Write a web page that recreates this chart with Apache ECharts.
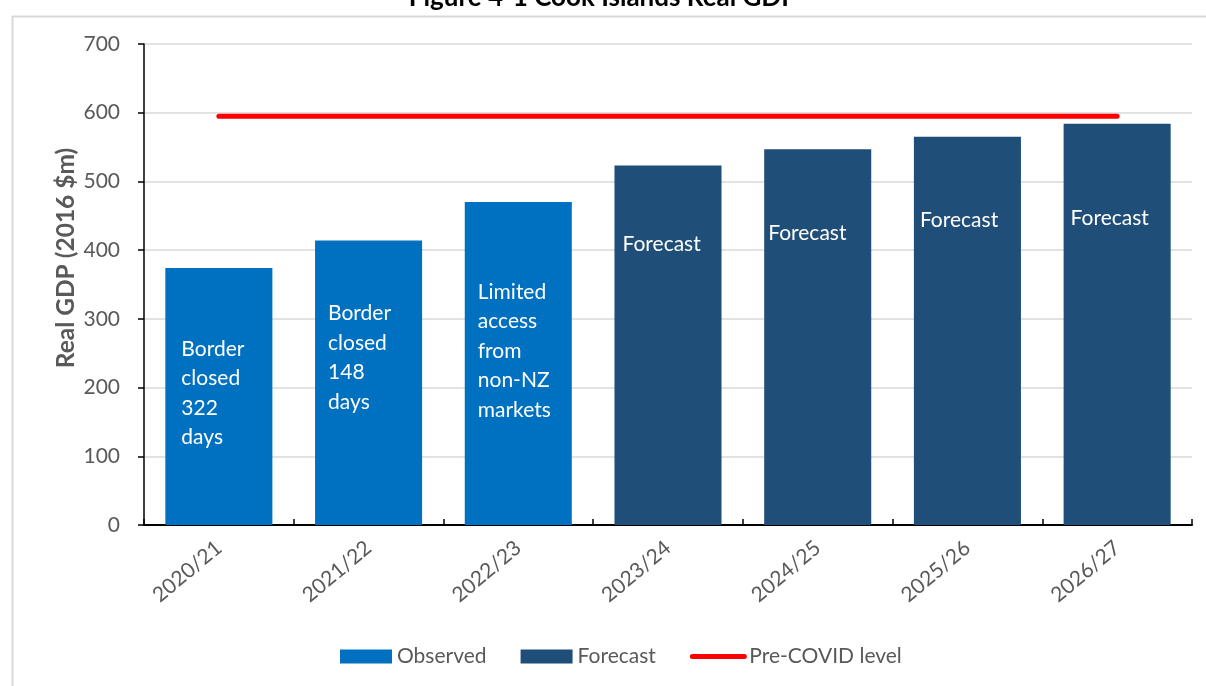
<!DOCTYPE html>
<html>
<head>
<meta charset="utf-8">
<script src="https://cdn.jsdelivr.net/npm/echarts@6/dist/echarts.min.js"></script>
<style>
  html, body { margin: 0; padding: 0; background: #ffffff; }
  #chart { width: 1206px; height: 686px; }
</style>
</head>
<body>
<div id="chart"></div>
<script>
// Cook Islands real GDP, 2016 $m
const categories = ['2020/21', '2021/22', '2022/23', '2023/24', '2024/25', '2025/26', '2026/27'];
const observed = [374, 414, 470, null, null, null, null];
const forecast = [null, null, null, 523, 547, 565, 584];
const preCovidLevel = [595, 595, 595, 595, 595, 595, 595];
const barNotes = [
  'Border\nclosed\n322\ndays',
  'Border\nclosed\n148\ndays',
  'Limited\naccess\nfrom\nnon-NZ\nmarkets',
  'Forecast', 'Forecast', 'Forecast', 'Forecast'
];
const yTicks = [0, 100, 200, 300, 400, 500, 600, 700];

const FONT = 'Lato';
const GREY = '#595959';

// where each note sits inside its bar, measured from the bar's top-left corner
const notePlacement = [[16, 66], [13, 58], [13, 75], [8, 64], [4, 69], [6, 69], [7, 80]];

function barData(values) {
  return values.map((v, i) => {
    if (v == null) return '-';
    return {
      value: v,
      label: {
        show: true,
        formatter: barNotes[i],
        position: notePlacement[i],
        align: 'left',
        verticalAlign: 'top'
      }
    };
  });
}

const noteLabel = {
  color: '#ffffff',
  fontFamily: FONT,
  fontSize: 21,
  lineHeight: 29.5
};

const chart = echarts.init(document.getElementById('chart'), null, { renderer: 'canvas' });

chart.setOption({
  backgroundColor: '#ffffff',
  animation: false,
  title: {
    text: 'Figure 4-1 Cook Islands Real GDP',
    left: 'center',
    top: -20,
    textStyle: { fontFamily: FONT, fontWeight: 'bold', fontSize: 26, color: '#000000' }
  },
  graphic: [
    {
      type: 'rect',
      left: 10, top: 14,
      shape: { width: 1400, height: 900 },
      style: { fill: null, stroke: '#d9d9d9', lineWidth: 2 },
      silent: true,
      z: -10
    },
    {
      type: 'text',
      x: 66, y: 258,
      rotation: Math.PI / 2,
      style: {
        text: 'Real GDP (2016 $m)',
        fill: GREY,
        font: 'bold 24.5px ' + FONT,
        align: 'center',
        verticalAlign: 'middle'
      }
    }
  ],
  grid: { left: 144, right: 14, top: 44, bottom: 161, containLabel: false },
  legend: {
    bottom: 14,
    left: 335,
    itemWidth: 52,
    itemHeight: 14,
    itemGap: 34,
    textStyle: { fontFamily: FONT, fontSize: 21, color: GREY },
    data: [
      { name: 'Observed', icon: 'rect' },
      { name: 'Forecast', icon: 'rect' },
      {
        name: 'Pre-COVID level',
        itemStyle: { color: 'rgba(0,0,0,0)', opacity: 0 },
        lineStyle: { color: '#ff0000', width: 5, cap: 'round' }
      }
    ]
  },
  xAxis: {
    type: 'category',
    data: categories,
    axisLine: { lineStyle: { color: '#000000', width: 2 } },
    axisTick: { show: true, inside: true, length: 6, lineStyle: { color: '#000000', width: 1.5 } },
    axisLabel: {
      rotate: 40,
      margin: 20,
      fontFamily: FONT,
      fontSize: 21,
      color: GREY
    },
    splitLine: { show: false }
  },
  yAxis: {
    type: 'value',
    min: 0,
    max: 700,
    interval: 100,
    axisLine: { show: true, lineStyle: { color: '#000000', width: 1.5 } },
    axisTick: { show: true, length: 6, lineStyle: { color: '#000000', width: 1.5 } },
    axisLabel: {
      margin: 24,
      fontFamily: FONT,
      fontSize: 21,
      color: GREY,
      formatter: v => (yTicks.indexOf(v) >= 0 ? String(v) : '')
    },
    splitLine: { lineStyle: { color: '#d9d9d9', width: 1.5 } }
  },
  series: [
    {
      name: 'Observed',
      type: 'bar',
      data: barData(observed),
      barWidth: '71.5%',
      barGap: '-100%',
      itemStyle: { color: '#0070c0' },
      label: noteLabel
    },
    {
      name: 'Forecast',
      type: 'bar',
      data: barData(forecast),
      barWidth: '71.5%',
      barGap: '-100%',
      itemStyle: { color: '#1f4e79' },
      label: noteLabel
    },
    {
      name: 'Pre-COVID level',
      type: 'line',
      data: preCovidLevel,
      symbol: 'none',
      showSymbol: false,
      itemStyle: { color: '#ff0000' },
      lineStyle: { color: '#ff0000', width: 5, cap: 'round' },
      z: 5
    }
  ]
});
</script>
</body>
</html>
